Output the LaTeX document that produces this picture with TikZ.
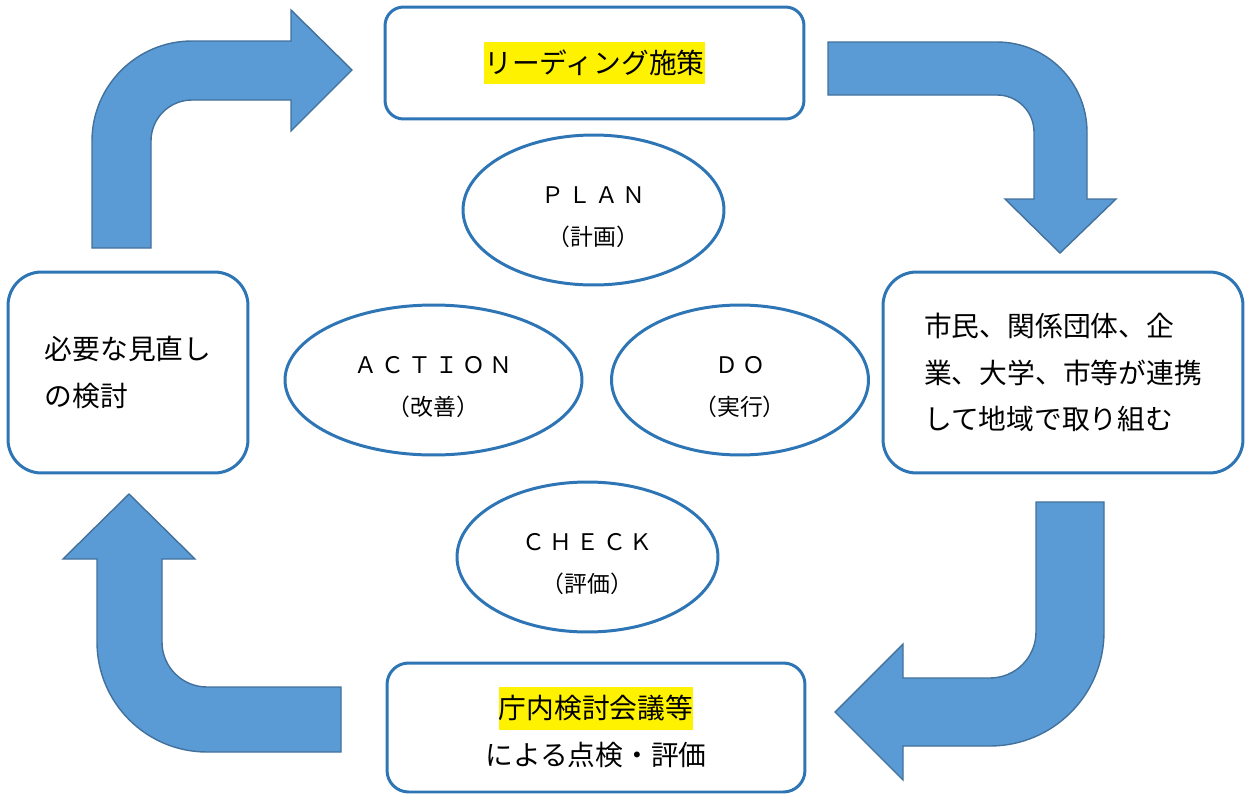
\documentclass[tikz,border=0pt]{standalone}
\usepackage{fontspec}
\setmainfont{Noto Sans CJK JP}
\newfontfamily\spacedfont[LetterSpace=18]{Noto Sans CJK JP}
\usetikzlibrary{shapes.geometric}
\definecolor{boxblue}{HTML}{2E75B6}
\definecolor{arrowfill}{HTML}{5B9BD5}
\definecolor{arrowline}{HTML}{41719C}
\newcommand{\hl}[1]{{\setlength{\fboxsep}{0pt}\colorbox{yellow}{\rule[-0.39em]{0pt}{1.54em}#1}}}
\newcommand{\phasetop}{\rule{0pt}{0.64cm}}

\begin{document}
\begin{tikzpicture}[x=0.02cm, y=0.02cm,
    boxnode/.style={draw=boxblue, fill=white, line width=1.7pt, rectangle, inner sep=0pt,
        font=\fontsize{15.8}{26.6}\selectfont},
    phase/.style={draw=boxblue, fill=white, line width=1.7pt, ellipse, inner sep=0pt,
        minimum height=3cm, align=center, font=\fontsize{13}{23.8}\selectfont},
    bigarrow/.style={fill=arrowfill, draw=arrowline, line width=0.8pt, line join=miter}]
    \useasboundingbox (0,0) rectangle (1249,-795);

    % curved block arrows
    \draw[bigarrow] (92,-248) -- (92,-141) arc[start angle=180, end angle=90, radius=100]
        -- (291,-41) -- (291,-10) -- (352,-70) -- (291,-131) -- (291,-100) -- (192,-100)
        arc[start angle=90, end angle=180, radius=41] -- (151,-248) -- cycle;
    \draw[bigarrow] (828,-42) -- (997,-42) arc[start angle=90, end angle=0, radius=90]
        -- (1087,-199) -- (1116,-199) -- (1060,-253) -- (1005,-199) -- (1034,-199) -- (1034,-132)
        arc[start angle=0, end angle=90, radius=37] -- (828,-95) -- cycle;
    \draw[bigarrow] (1036,-502) -- (1104,-502) -- (1104,-632) arc[start angle=0, end angle=-90, radius=114]
        -- (903,-746) -- (903,-780) -- (835,-712) -- (903,-644) -- (903,-678) -- (990,-678)
        arc[start angle=-90, end angle=0, radius=46] -- cycle;
    \draw[bigarrow] (341,-687) -- (207,-687) arc[start angle=-90, end angle=-180, radius=45]
        -- (162,-559) -- (195,-559) -- (129,-494) -- (63,-559) -- (97,-559) -- (97,-642)
        arc[start angle=180, end angle=270, radius=110] -- (341,-752) -- cycle;

    % boxes
    \node[boxnode, minimum width=8.38cm, minimum height=2.24cm, rounded corners=0.37cm] (lead) at (594.5,-63) {\hl{リーディング施策}};
    \node[boxnode, align=left, minimum width=7.2cm, minimum height=4.02cm, rounded corners=0.67cm] (act) at (1063,-372.5) {市民、関係団体、企\\業、大学、市等が連携\\して地域で取り組む};
    \node[boxnode, align=center, minimum width=8.36cm, minimum height=2.58cm, rounded corners=0.43cm] (review) at (596,-727.5) {\hl{庁内検討会議等}\\による点検・評価};
    \node[boxnode, align=left, minimum width=4.8cm, minimum height=4.02cm, rounded corners=0.67cm] (revise) at (128,-372.5) {必要な見直し\\の検討};

    % cycle ellipses
    \node[phase, minimum width=5.22cm] (plan) at (593.5,-210) {\phasetop{\spacedfont ＰＬＡＮ}\\（計画）};
    \node[phase, minimum width=5.94cm] (action) at (433.5,-380) {\phasetop{\spacedfont ＡＣＴＩＯＮ}\\（改善）};
    \node[phase, minimum width=5.14cm] (do) at (740,-380) {\phasetop{\spacedfont ＤＯ}\\（実行）};
    \node[phase, minimum width=5.22cm] (check) at (587.5,-557) {\phasetop{\spacedfont ＣＨＥＣＫ}\\（評価）};
\end{tikzpicture}
\end{document}
